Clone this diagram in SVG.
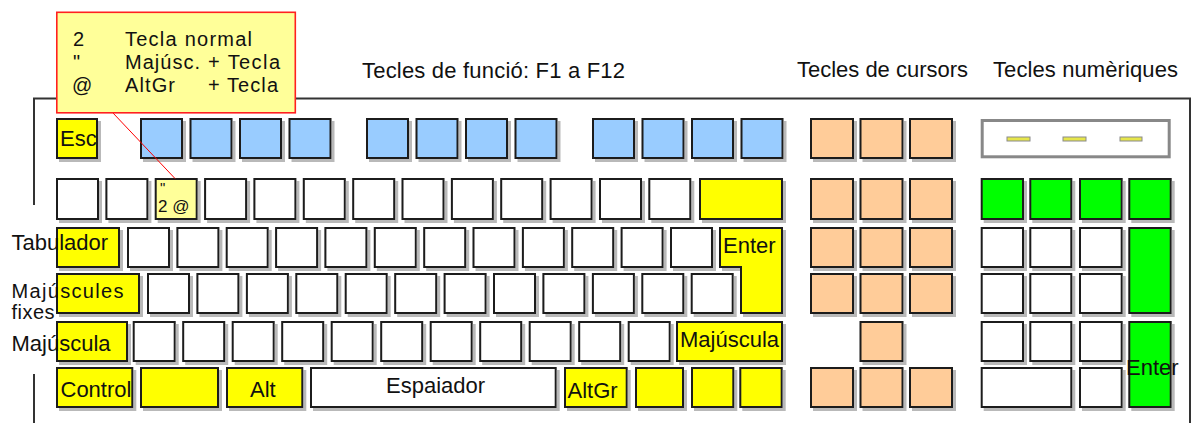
<svg xmlns="http://www.w3.org/2000/svg" width="1192" height="423" viewBox="0 0 1192 423">
<style>
text{font-family:"Liberation Sans",Arial,sans-serif;font-size:22px;fill:#111}
.c text,text.s{font-size:20px}
.k rect,.k path{stroke:#1a1a1a;stroke-width:2}
.w{fill:#fff}.y{fill:#ffff00}.ly{fill:#ffff99}.b{fill:#99ccff}.o{fill:#ffcc99}.g{fill:#00ff00}
.frame{fill:none;stroke:#333;stroke-width:2}
</style>
<defs>
<filter id="sh" x="-5%" y="-5%" width="115%" height="125%">
<feFlood flood-color="#b9b9b9"/>
<feComposite in2="SourceAlpha" operator="in"/>
<feOffset dx="3" dy="3" result="s"/>
<feMerge><feMergeNode in="s"/><feMergeNode in="SourceGraphic"/></feMerge>
</filter>
</defs>
<rect width="1192" height="423" fill="#fff"/>
<g id="frame" class="frame">
<path d="M34,205 V98.5 H1190 V423"/>
<path d="M34,374 V423"/>
</g>
<g id="titles">
<text x="362" y="77.5" textLength="263">Tecles de funció: F1 a F12</text>
<text x="797" y="77" textLength="171">Tecles de cursors</text>
<text x="993" y="77" textLength="185">Tecles numèriques</text>
</g>
<g id="main-keys" class="k" filter="url(#sh)">
<g id="row-f">
<rect id="esc" class="y" x="57" y="119" width="40" height="39"/>
<rect class="b" x="141" y="119" width="41" height="39"/>
<rect class="b" x="190.5" y="119" width="41" height="39"/>
<rect class="b" x="240" y="119" width="41" height="39"/>
<rect class="b" x="289.5" y="119" width="41" height="39"/>
<rect class="b" x="367" y="119" width="41" height="39"/>
<rect class="b" x="416.5" y="119" width="41" height="39"/>
<rect class="b" x="466" y="119" width="41" height="39"/>
<rect class="b" x="515.5" y="119" width="41" height="39"/>
<rect class="b" x="593" y="119" width="41" height="39"/>
<rect class="b" x="642.5" y="119" width="41" height="39"/>
<rect class="b" x="692" y="119" width="41" height="39"/>
<rect class="b" x="741.5" y="119" width="41" height="39"/>
</g>
<g id="row-2">
<rect class="w" x="57" y="179" width="41" height="40"/>
<rect class="w" x="106.4" y="179" width="41" height="40"/>
<rect id="key-2" class="ly" x="155.7" y="179" width="41" height="40"/>
<rect class="w" x="205.1" y="179" width="41" height="40"/>
<rect class="w" x="254.4" y="179" width="41" height="40"/>
<rect class="w" x="303.8" y="179" width="41" height="40"/>
<rect class="w" x="353.2" y="179" width="41" height="40"/>
<rect class="w" x="402.5" y="179" width="41" height="40"/>
<rect class="w" x="451.9" y="179" width="41" height="40"/>
<rect class="w" x="501.2" y="179" width="41" height="40"/>
<rect class="w" x="550.6" y="179" width="41" height="40"/>
<rect class="w" x="600" y="179" width="41" height="40"/>
<rect class="w" x="649.3" y="179" width="41" height="40"/>
<rect id="backspace" class="y" x="700" y="179" width="82" height="40"/>
</g>
<g id="row-3">
<rect id="tab" class="y" x="57" y="228" width="62" height="39"/>
<rect class="w" x="128" y="228" width="41" height="39"/>
<rect class="w" x="177.4" y="228" width="41" height="39"/>
<rect class="w" x="226.7" y="228" width="41" height="39"/>
<rect class="w" x="276.1" y="228" width="41" height="39"/>
<rect class="w" x="325.4" y="228" width="41" height="39"/>
<rect class="w" x="374.8" y="228" width="41" height="39"/>
<rect class="w" x="424.2" y="228" width="41" height="39"/>
<rect class="w" x="473.5" y="228" width="41" height="39"/>
<rect class="w" x="522.9" y="228" width="41" height="39"/>
<rect class="w" x="572.2" y="228" width="41" height="39"/>
<rect class="w" x="621.6" y="228" width="41" height="39"/>
<rect class="w" x="671" y="228" width="41" height="39"/>
<path id="enter" class="y" d="M720,228 H782 V313 H741 V267 H720 Z"/>
</g>
<g id="row-4">
<rect id="caps" class="y" x="57" y="274" width="82" height="39"/>
<rect class="w" x="148" y="274" width="41" height="39"/>
<rect class="w" x="197.4" y="274" width="41" height="39"/>
<rect class="w" x="246.9" y="274" width="41" height="39"/>
<rect class="w" x="296.3" y="274" width="41" height="39"/>
<rect class="w" x="345.7" y="274" width="41" height="39"/>
<rect class="w" x="395.2" y="274" width="41" height="39"/>
<rect class="w" x="444.6" y="274" width="41" height="39"/>
<rect class="w" x="494" y="274" width="41" height="39"/>
<rect class="w" x="543.4" y="274" width="41" height="39"/>
<rect class="w" x="592.9" y="274" width="41" height="39"/>
<rect class="w" x="642.3" y="274" width="41" height="39"/>
<rect class="w" x="691.7" y="274" width="41" height="39"/>
</g>
<g id="row-5">
<rect id="shift-l" class="y" x="57" y="322" width="70" height="39"/>
<rect class="w" x="133.7" y="322" width="41" height="39"/>
<rect class="w" x="183.2" y="322" width="41" height="39"/>
<rect class="w" x="232.7" y="322" width="41" height="39"/>
<rect class="w" x="282.2" y="322" width="41" height="39"/>
<rect class="w" x="331.7" y="322" width="41" height="39"/>
<rect class="w" x="381.2" y="322" width="41" height="39"/>
<rect class="w" x="430.7" y="322" width="41" height="39"/>
<rect class="w" x="480.2" y="322" width="41" height="39"/>
<rect class="w" x="529.7" y="322" width="41" height="39"/>
<rect class="w" x="579.2" y="322" width="41" height="39"/>
<rect class="w" x="628.7" y="322" width="41" height="39"/>
<rect id="shift-r" class="y" x="677" y="322" width="105" height="39"/>
</g>
<g id="row-6">
<rect id="ctrl" class="y" x="57" y="368" width="75.3" height="39"/>
<rect class="y" x="141" y="368" width="77" height="39"/>
<rect id="alt" class="y" x="227" y="368" width="75.3" height="39"/>
<rect id="space" class="w" x="311" y="368" width="244.7" height="39"/>
<rect id="altgr" class="y" x="565" y="368" width="61.7" height="39"/>
<rect class="y" x="636" y="368" width="47" height="39"/>
<rect class="y" x="692" y="368" width="41.3" height="39"/>
<rect class="y" x="740.3" y="368" width="41.4" height="39"/>
</g>
</g>
<g id="cursor-keys" class="k" filter="url(#sh)">
<rect class="o" x="811" y="119" width="42" height="39"/>
<rect class="o" x="860.5" y="119" width="42" height="39"/>
<rect class="o" x="910" y="119" width="42" height="39"/>
<rect class="o" x="811" y="179" width="42" height="40"/>
<rect class="o" x="860.5" y="179" width="42" height="40"/>
<rect class="o" x="910" y="179" width="42" height="40"/>
<rect class="o" x="811" y="228" width="42" height="39"/>
<rect class="o" x="860.5" y="228" width="42" height="39"/>
<rect class="o" x="910" y="228" width="42" height="39"/>
<rect class="o" x="811" y="274" width="42" height="39"/>
<rect class="o" x="860.5" y="274" width="42" height="39"/>
<rect class="o" x="910" y="274" width="42" height="39"/>
<rect class="o" x="860.5" y="322" width="42" height="39"/>
<rect class="o" x="811" y="368" width="42" height="39"/>
<rect class="o" x="860.5" y="368" width="42" height="39"/>
<rect class="o" x="910" y="368" width="42" height="39"/>
</g>
<g id="leds">
<rect x="982.2" y="120.5" width="187" height="36.3" fill="#fff" stroke="#888" stroke-width="3"/>
<rect x="1007" y="137" width="23" height="4" fill="#e6e64a" stroke="#8a8a8a" stroke-width="1"/>
<rect x="1063" y="137" width="23" height="4" fill="#e6e64a" stroke="#8a8a8a" stroke-width="1"/>
<rect x="1120" y="137" width="22" height="4" fill="#e6e64a" stroke="#8a8a8a" stroke-width="1"/>
</g>
<g id="numpad" class="k" filter="url(#sh)">
<rect class="g" x="981.7" y="179" width="41.3" height="40"/>
<rect class="g" x="1030.3" y="179" width="41" height="40"/>
<rect class="g" x="1080" y="179" width="41.7" height="40"/>
<rect class="g" x="1129.3" y="179" width="41.4" height="40"/>
<rect class="w" x="981.7" y="228" width="41.3" height="39"/>
<rect class="w" x="1030.3" y="228" width="41" height="39"/>
<rect class="w" x="1080" y="228" width="41.7" height="39"/>
<rect id="np-plus" class="g" x="1129.3" y="228" width="41.4" height="85"/>
<rect class="w" x="981.7" y="274" width="41.3" height="39"/>
<rect class="w" x="1030.3" y="274" width="41" height="39"/>
<rect class="w" x="1080" y="274" width="41.7" height="39"/>
<rect class="w" x="981.7" y="322" width="41.3" height="39"/>
<rect class="w" x="1030.3" y="322" width="41" height="39"/>
<rect class="w" x="1080" y="322" width="41.7" height="39"/>
<rect id="np-enter" class="g" x="1129.3" y="322" width="41.4" height="85"/>
<rect id="np-0" class="w" x="981.7" y="368" width="89.6" height="39"/>
<rect class="w" x="1080" y="368" width="41.7" height="39"/>
</g>
<g id="key-labels">
<text x="60" y="145.7">Esc</text>
<text x="723" y="253.3">Enter</text>
<text x="680" y="346.7">Majúscula</text>
<text x="60.5" y="396.7">Control</text>
<text x="250" y="396.7">Alt</text>
<text x="386" y="392.5">Espaiador</text>
<text x="567.5" y="398">AltGr</text>
<text x="1126" y="375">Enter</text>
<text x="160" y="193" style="font-size:15px">"</text>
<text x="158" y="211.5" style="font-size:17px">2 @</text>
</g>
<g id="side-labels">
<text x="11.5" y="250">Tabulador</text>
<text class="s" x="11.5" y="298.3" textLength="112">Majúscules</text>
<text class="s" x="11.5" y="318.5" textLength="43">fixes</text>
<text x="11.5" y="350.5">Majúscula</text>
</g>
<g id="connectors">
<line x1="113" y1="113" x2="175" y2="178.5" stroke="#ff0000" stroke-width="1"/>
</g>
<g id="callout" class="c">
<rect x="56.8" y="12.3" width="238.5" height="100.5" fill="#ffff99" stroke="#ff2020" stroke-width="1.6"/>
<text x="73" y="45.7" textLength="12">2</text>
<text x="73" y="69">"</text>
<text x="72" y="91.5" textLength="22">@</text>
<text x="125" y="45.7" textLength="127">Tecla normal</text>
<text x="125" y="69" textLength="75">Majúsc.</text>
<text x="208" y="69" textLength="72">+ Tecla</text>
<text x="125" y="91.5" textLength="50">AltGr</text>
<text x="208" y="91.5" textLength="70">+ Tecla</text>
</g>
</svg>
